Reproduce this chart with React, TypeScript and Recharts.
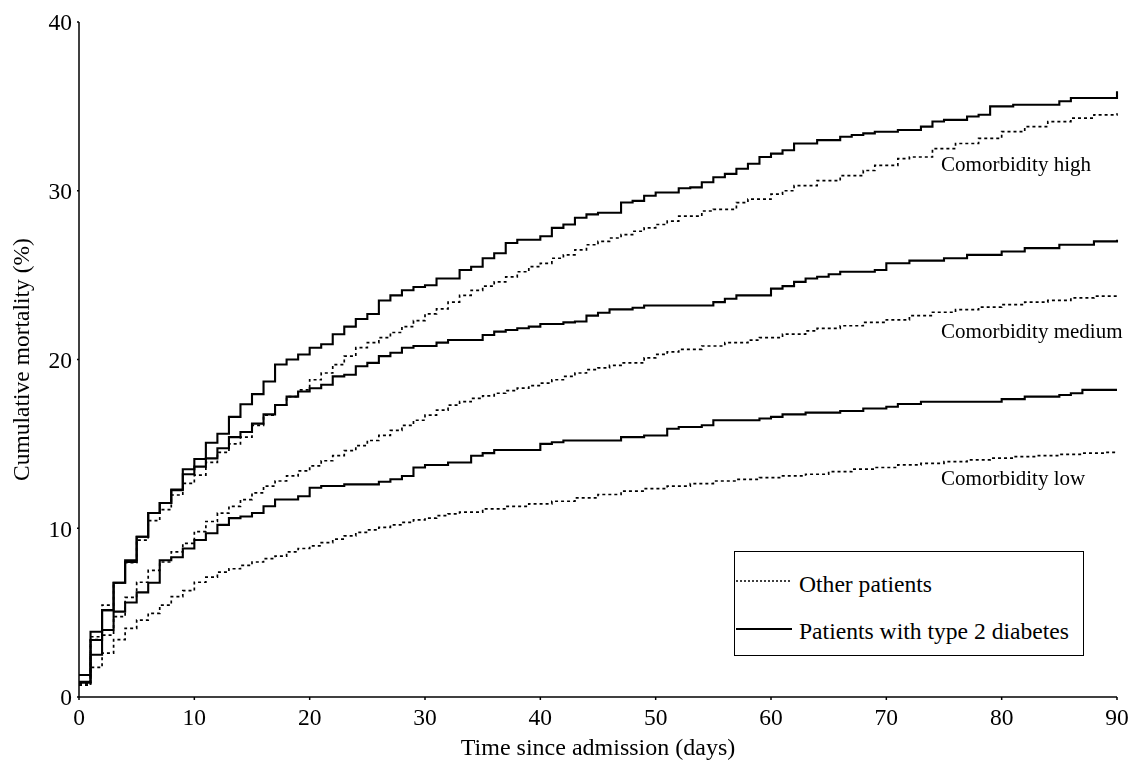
import React from 'react';
import { LineChart, Line, XAxis, YAxis, ReferenceDot } from 'recharts';

const FONT = '"Liberation Serif", "Times New Roman", "DejaVu Serif", serif';

const xTicks = [0, 10, 20, 30, 40, 50, 60, 70, 80, 90];
const yTicks = [0, 10, 20, 30, 40];

// [day, cumulative mortality %]
const highDiabetes: [number, number][] = [
  [0, 1.3], [1, 3.87], [2, 5.15], [3, 6.77], [4, 8.1], [5, 9.5], [6, 10.9], [7, 11.5], [8, 12.3], [9, 13.5],
  [10, 14.1], [11, 15.07], [12, 15.6], [13, 16.6], [14, 17.35], [15, 17.95], [16, 18.7], [17, 19.7], [18, 20.0],
  [19, 20.3], [20, 20.7], [21, 20.9], [22, 21.5], [23, 21.95], [24, 22.4], [25, 22.7], [26, 23.5], [27, 23.8],
  [28, 24.1], [29, 24.3], [30, 24.4], [31, 24.8], [33, 25.3], [34, 25.5], [35, 26.0], [36, 26.3], [37, 26.9],
  [38, 27.1], [40, 27.3], [41, 27.8], [42, 28.0], [43, 28.4], [44, 28.6], [45, 28.7], [47, 29.3], [48, 29.4],
  [49, 29.7], [50, 29.9], [52, 30.15], [53, 30.2], [54, 30.5], [55, 30.8], [56, 31.0], [57, 31.3], [58, 31.6],
  [59, 32.0], [60, 32.2], [61, 32.4], [62, 32.8], [64, 33.0], [66, 33.2], [67, 33.3], [68, 33.4], [69, 33.5],
  [71, 33.6], [73, 33.8], [74, 34.1], [75, 34.2], [77, 34.4], [78, 34.5], [79, 35.0], [81, 35.1], [85, 35.3],
  [86, 35.5], [90, 35.9],
];

const highOther: [number, number][] = [
  [0, 0.7], [1, 3.57], [2, 5.45], [3, 6.77], [4, 7.96], [5, 9.3], [6, 10.45], [7, 11.1], [8, 11.97], [9, 12.66],
  [10, 13.15], [11, 13.9], [12, 14.5], [13, 15.0], [14, 15.4], [15, 16.1], [16, 16.7], [17, 17.3], [18, 17.8],
  [19, 18.2], [20, 18.8], [21, 19.2], [22, 19.7], [23, 20.2], [24, 20.7], [25, 21.0], [26, 21.3], [27, 21.6],
  [28, 21.95], [29, 22.3], [30, 22.7], [31, 23.0], [32, 23.4], [33, 23.8], [34, 24.1], [35, 24.35], [36, 24.6],
  [37, 24.9], [38, 25.2], [39, 25.5], [40, 25.7], [41, 26.0], [42, 26.2], [43, 26.5], [44, 26.8], [45, 27.0],
  [46, 27.2], [47, 27.4], [48, 27.6], [49, 27.8], [50, 28.0], [51, 28.2], [52, 28.5], [54, 28.8], [55, 28.9],
  [57, 29.3], [58, 29.5], [60, 29.8], [61, 30.0], [62, 30.3], [64, 30.6], [66, 30.9], [68, 31.2], [69, 31.5],
  [71, 31.9], [72, 32.0], [74, 32.5], [76, 32.8], [78, 33.1], [80, 33.5], [82, 33.8], [84, 34.1], [86, 34.3],
  [88, 34.5], [90, 34.6],
];

const mediumDiabetes: [number, number][] = [
  [0, 0.85], [1, 3.38], [2, 5.15], [3, 6.77], [4, 8.0], [5, 9.5], [6, 10.9], [7, 11.5], [8, 12.25], [9, 13.2],
  [10, 13.65], [11, 14.14], [12, 14.74], [13, 15.4], [14, 15.7], [15, 16.2], [16, 16.75], [17, 17.3], [18, 17.8],
  [19, 18.1], [20, 18.3], [21, 18.5], [22, 19.0], [23, 19.1], [24, 19.6], [25, 19.8], [26, 20.2], [27, 20.4],
  [28, 20.7], [29, 20.8], [31, 21.0], [32, 21.16], [35, 21.45], [36, 21.65], [37, 21.75], [38, 21.85], [39, 21.95],
  [40, 22.1], [42, 22.2], [43, 22.25], [44, 22.6], [45, 22.77], [46, 22.97], [48, 23.07], [49, 23.2], [55, 23.4],
  [56, 23.6], [57, 23.8], [60, 24.2], [61, 24.35], [62, 24.6], [63, 24.8], [64, 24.9], [65, 25.05], [66, 25.2],
  [69, 25.3], [70, 25.7], [72, 25.86], [75, 26.0], [77, 26.2], [80, 26.4], [82, 26.6], [85, 26.8], [88, 27.0],
  [90, 27.1],
];

const mediumOther: [number, number][] = [
  [0, 0.8], [1, 3.4], [2, 3.67], [3, 4.76], [4, 5.9], [5, 6.8], [6, 7.5], [7, 8.0], [8, 8.6], [9, 9.1],
  [10, 9.8], [11, 10.4], [12, 10.9], [13, 11.3], [14, 11.7], [15, 12.1], [16, 12.5], [17, 12.8], [18, 13.1],
  [19, 13.4], [20, 13.7], [21, 14.0], [22, 14.3], [23, 14.6], [24, 14.9], [25, 15.2], [26, 15.5], [27, 15.8],
  [28, 16.1], [29, 16.4], [30, 16.7], [31, 17.0], [32, 17.3], [33, 17.5], [34, 17.7], [35, 17.85], [36, 18.0],
  [37, 18.15], [38, 18.3], [39, 18.45], [40, 18.6], [41, 18.8], [42, 19.0], [43, 19.2], [44, 19.4], [45, 19.5],
  [46, 19.65], [47, 19.8], [49, 20.1], [50, 20.3], [51, 20.45], [52, 20.6], [54, 20.8], [56, 21.0], [58, 21.15],
  [59, 21.3], [61, 21.5], [63, 21.7], [64, 21.85], [66, 22.0], [68, 22.2], [70, 22.35], [72, 22.6], [74, 22.8],
  [76, 22.95], [78, 23.1], [80, 23.25], [82, 23.4], [84, 23.5], [86, 23.65], [88, 23.75], [90, 23.85],
];

const lowDiabetes: [number, number][] = [
  [0, 0.9], [1, 2.5], [2, 3.97], [3, 5.06], [4, 5.6], [5, 6.2], [6, 6.77], [7, 8.1], [8, 8.28], [9, 8.8],
  [10, 9.3], [11, 9.7], [12, 10.2], [13, 10.6], [14, 10.7], [15, 10.9], [16, 11.3], [17, 11.7], [19, 11.9],
  [20, 12.4], [21, 12.5], [23, 12.6], [26, 12.76], [27, 12.9], [28, 13.1], [29, 13.6], [30, 13.75], [32, 13.9],
  [34, 14.3], [35, 14.45], [36, 14.64], [40, 15.0], [41, 15.1], [42, 15.2], [47, 15.4], [49, 15.5], [51, 15.9],
  [52, 16.0], [54, 16.1], [55, 16.4], [59, 16.5], [60, 16.6], [61, 16.75], [63, 16.85], [66, 16.95], [68, 17.1],
  [70, 17.2], [71, 17.36], [73, 17.5], [80, 17.65], [82, 17.8], [85, 17.9], [86, 18.0], [87, 18.2], [90, 18.2],
];

const lowOther: [number, number][] = [
  [0, 0.7], [1, 1.75], [2, 2.6], [3, 3.4], [4, 4.07], [5, 4.56], [6, 4.96], [7, 5.45], [8, 5.95], [9, 6.3],
  [10, 6.8], [11, 7.1], [12, 7.4], [13, 7.6], [14, 7.8], [15, 8.0], [16, 8.2], [17, 8.35], [18, 8.6], [19, 8.8],
  [20, 8.95], [21, 9.15], [22, 9.35], [23, 9.55], [24, 9.75], [25, 9.9], [26, 10.05], [27, 10.2], [28, 10.35],
  [29, 10.5], [30, 10.6], [31, 10.75], [32, 10.85], [33, 10.95], [35, 11.15], [37, 11.3], [39, 11.45], [41, 11.6],
  [43, 11.8], [45, 12.0], [47, 12.2], [49, 12.35], [51, 12.5], [53, 12.65], [55, 12.8], [57, 12.9], [59, 13.0],
  [61, 13.1], [63, 13.2], [65, 13.35], [67, 13.5], [69, 13.6], [71, 13.75], [73, 13.85], [75, 13.95], [77, 14.05],
  [79, 14.15], [81, 14.25], [83, 14.3], [85, 14.38], [87, 14.45], [89, 14.5], [90, 14.5],
];

const curveLabels = [
  { text: 'Comorbidity high', day: 74.75, value: 31.2 },
  { text: 'Comorbidity medium', day: 74.75, value: 21.27 },
  { text: 'Comorbidity low', day: 74.75, value: 12.56 },
];

const legendItems = [
  { text: 'Other patients', dashed: true },
  { text: 'Patients with type 2 diabetes', dashed: false },
];

const toRows = (pts: [number, number][]) => pts.map(([day, v]) => ({ day, v }));

const series = [
  { key: 'highDiabetes', pts: highDiabetes, dashed: false },
  { key: 'mediumDiabetes', pts: mediumDiabetes, dashed: false },
  { key: 'lowDiabetes', pts: lowDiabetes, dashed: false },
  { key: 'highOther', pts: highOther, dashed: true },
  { key: 'mediumOther', pts: mediumOther, dashed: true },
  { key: 'lowOther', pts: lowOther, dashed: true },
];

const tickStyle = { fontSize: 23.5, fill: '#000', fontFamily: FONT };

const XTitle = (props: any) => {
  const vb = props.viewBox || {};
  return (
    <text x={vb.x + vb.width / 2} y={vb.y + 58} textAnchor="middle" fontSize={24} fontFamily={FONT} fill="#000">
      Time since admission (days)
    </text>
  );
};

const YTitle = (props: any) => {
  const vb = props.viewBox || {};
  const cx = vb.x + 21;
  const cy = vb.y + vb.height / 2;
  return (
    <text x={cx} y={cy} transform={`rotate(-90, ${cx}, ${cy})`} textAnchor="middle" fontSize={23.5} fontFamily={FONT} fill="#000">
      Cumulative mortality (%)
    </text>
  );
};

export default function App() {
  return (
    <div style={{ position: 'fixed', left: 8, top: 8, width: 1123, height: 752 }}>
      <LineChart width={1123} height={752} margin={{ top: 14, right: 14, bottom: 0, left: 0 }}>
        <XAxis
          type="number"
          dataKey="day"
          domain={[0, 90]}
          ticks={xTicks}
          interval={0}
          height={63}
          tick={tickStyle}
          tickSize={3}
          tickMargin={8}
          stroke="#000"
          strokeWidth={1.5}
          label={<XTitle />}
        />
        <YAxis
          type="number"
          domain={[0, 40]}
          ticks={yTicks}
          interval={0}
          width={71}
          tick={tickStyle}
          tickSize={2}
          tickMargin={5}
          stroke="#000"
          strokeWidth={1.5}
          label={<YTitle />}
        />
        {series.map((s) => (
          <Line
            key={s.key}
            data={toRows(s.pts)}
            dataKey="v"
            type="stepAfter"
            stroke="#000"
            strokeWidth={s.dashed ? 1.7 : 2.1}
            strokeDasharray={s.dashed ? '3 3' : undefined}
            dot={false}
            activeDot={false}
            isAnimationActive={false}
            legendType="none"
          />
        ))}
        {curveLabels.map((c) => (
          <ReferenceDot
            key={c.text}
            x={c.day}
            y={c.value}
            r={1}
            fill="none"
            stroke="none"
            label={(p: any) => (
              <text x={p.viewBox.x + 1} y={p.viewBox.y + 1} fontSize={21} fontFamily={FONT} fill="#000">
                {c.text}
              </text>
            )}
          />
        ))}
      </LineChart>
      <svg
        width={350}
        height={105}
        style={{ position: 'absolute', left: 726, top: 543 }}
      >
        <rect x={0.5} y={0.5} width={349} height={104} fill="#fff" stroke="#000" strokeWidth={1} />
        {legendItems.map((it, i) => (
          <g key={it.text}>
            <line
              x1={2}
              x2={58}
              y1={30 + i * 48}
              y2={30 + i * 48}
              stroke="#000"
              strokeWidth={it.dashed ? 1.5 : 2}
              strokeDasharray={it.dashed ? '2 2' : undefined}
            />
            <text x={65} y={41 + i * 47} fontSize={23.6} fontFamily={FONT} fill="#000">
              {it.text}
            </text>
          </g>
        ))}
      </svg>
    </div>
  );
}
